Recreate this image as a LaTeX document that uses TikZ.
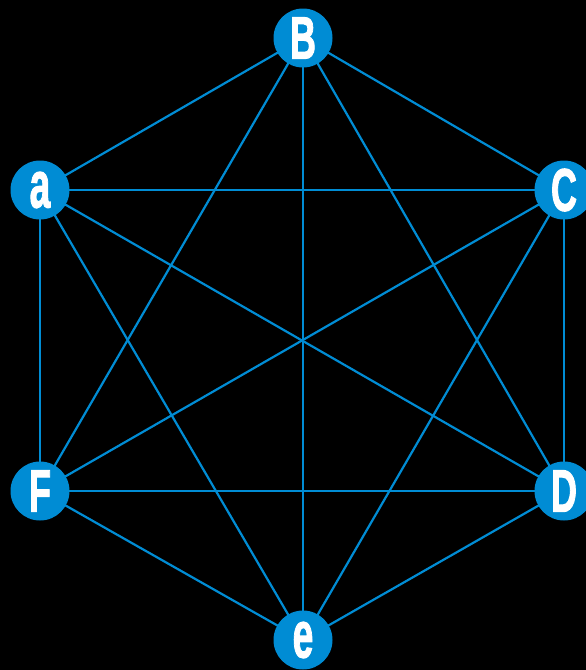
\documentclass[tikz,border=0pt]{standalone}
\usepackage{fontspec}
\setmainfont{Liberation Sans}
\newfontfamily\heavyfont{Liberation Sans}[UprightFont=*-Bold, FakeBold=2]
\definecolor{nodeblue}{RGB}{0,140,212}
\newcommand{\capl}[1]{\scalebox{0.6}[1.0]{\fontsize{60}{60}\selectfont #1}}
\newcommand{\lowl}[1]{\scalebox{0.62}[1.1]{\fontsize{60}{60}\selectfont #1}}
\tikzset{
  vert/.style={circle, fill=nodeblue, draw=none, minimum size=59pt, inner sep=0pt,
    text=white, font=\heavyfont},
  edge/.style={draw=nodeblue, line width=2.2pt}
}
\begin{document}
\begin{tikzpicture}[x=1pt,y=1pt]
\fill[black] (0,0) rectangle (586,-670);
\useasboundingbox (0,0) rectangle (586,-670);
\coordinate (pB) at (303,-38);
\coordinate (pa) at (40,-190);
\coordinate (pC) at (564,-190);
\coordinate (pF) at (40,-491);
\coordinate (pD) at (564,-491);
\coordinate (pe) at (303,-640);
\foreach \u/\v in {pB/pa,pB/pC,pB/pF,pB/pD,pB/pe,pa/pC,pa/pF,pa/pD,pa/pe,pC/pF,pC/pD,pC/pe,pF/pD,pF/pe,pD/pe}
  \draw[edge] (\u) -- (\v);
\node[vert] (B) at (pB) {\capl{B}};
\node[vert] (a) at (pa) {\lowl{a}};
\node[vert] (C) at (pC) {\capl{C}};
\node[vert] (F) at (pF) {\capl{F}};
\node[vert] (D) at (pD) {\capl{D}};
\node[vert] (e) at (pe) {\lowl{e}};
\end{tikzpicture}
\end{document}
